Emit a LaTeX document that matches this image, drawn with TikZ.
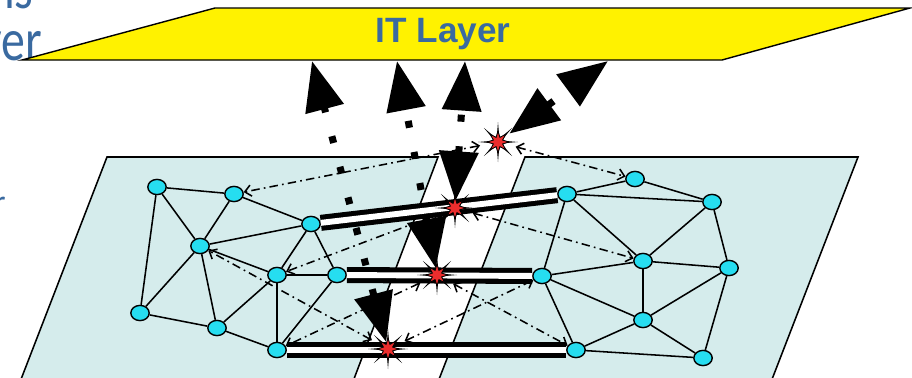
\documentclass[tikz,border=0pt]{standalone}
\usepackage{fontspec}
\setmainfont{Liberation Sans}
\newfontfamily\slidefont{Carlito}
\usepackage{graphicx}
\usetikzlibrary{shapes.geometric, arrows.meta}
\definecolor{planecyan}{RGB}{213,236,236}
\definecolor{hostcyan}{RGB}{38,221,240}
\definecolor{slideblue}{RGB}{58,106,160}
\definecolor{faultred}{RGB}{235,45,45}

\tikzset{
  host/.style={ellipse, draw, line width=1pt, fill=hostcyan,
    minimum width=0.46cm, minimum height=0.38cm, inner sep=0pt},
  link/.style={line width=1.1pt},
  probe/.style={line width=1.1pt, dash pattern=on 6pt off 3pt on 1.2pt off 3pt,
    {Straight Barb[length=4.5pt,width=8pt]}-{Straight Barb[length=4.5pt,width=8pt]}},
  trunk/.style={line width=3.6pt, double=white, double distance=4.2pt},
  report/.style={line width=5pt, dash pattern=on 5pt off 17.5pt,
    {Triangle[length=1.24cm,width=0.95cm]}-{Triangle[length=1.24cm,width=0.95cm]}},
  fault/.style={star, star points=8, star point ratio=2.2, fill=faultred, draw,
    line width=0.6pt, minimum size=0.55cm, inner sep=0pt},
  spike/.style={star, star points=8, star point ratio=5.5, fill=black,
    minimum size=1cm, inner sep=0pt}
}

\begin{document}
\begin{tikzpicture}[x=0.025cm, y=-0.025cm]
    % --- Frame (pixel grid of the slide crop) ---
    \useasboundingbox (0,0) rectangle (912,377);
    \clip (0,0) rectangle (912,377);

    % --- Slide text behind the figure, cut by the frame ---
    \node[anchor=base east, inner sep=0pt, text=slideblue, font=\slidefont\fontsize{34}{34}\selectfont]
        (txtis) at (34,8) {\scalebox{1}[1.25]{is}};
    \node[anchor=base east, inner sep=0pt, text=slideblue, font=\slidefont\fontsize{34}{34}\selectfont]
        (txtver) at (42,60) {\scalebox{1}[1.25]{ver}};
    \node[anchor=base east, inner sep=0pt, text=slideblue, font=\slidefont\fontsize{24}{24}\selectfont]
        (txtr) at (6,213) {r};

    % --- IT layer ---
    \filldraw[fill=yellow, line width=1pt] (22,60) -- (215,8) -- (910,8) -- (722,60) -- cycle;
    \node[font=\bfseries\fontsize{25}{28}\selectfont, text=slideblue] (itlayer) at (443,34) {IT Layer};
    \coordinate (it1) at (312,61);
    \coordinate (it2) at (397,61);
    \coordinate (it3) at (465,61);
    \coordinate (it4) at (608,61);

    % --- The two network domains (white band between them) ---
    \fill[planecyan] (13,400) -- (107,157) -- (438,157) -- (346,400) -- cycle;
    \draw[link] (13,400) -- (107,157) -- (438,157) -- (346,400);
    \fill[planecyan] (431,400) -- (525,157) -- (858,157) -- (764,400) -- cycle;
    \draw[link] (431,400) -- (525,157) -- (858,157) -- (764,400);

    % --- Fault points on the trunks ---
    \coordinate (f0) at (498,142);
    \coordinate (fA) at (455,208);
    \coordinate (fB) at (437,275);
    \coordinate (fC) at (388,349);

    % --- Hosts ---
    \foreach \name/\x/\y in {n1/157/187, n2/234/194, n3/311/224, n4/200/246, n5/277/275,
        n6/337/275, n7/140/313, n8/217/328, n9/277/350,
        n10/567/194, n11/542/276, n12/635/179, n13/712/202, n14/643/261,
        n15/729/268, n16/643/320, n17/703/358, n18/576/350}
        \node[host] (\name) at (\x,\y) {};

    % --- Links inside each domain ---
    \foreach \a/\b in {n1/n2, n1/n4, n1/n7, n2/n4, n2/n3, n3/n4, n4/n7, n4/n8, n4/n5,
        n3/n5, n3/n6, n5/n6, n5/n8, n5/n9, n6/n9, n7/n8, n8/n9}
        \draw[link] (\a) -- (\b);
    \foreach \a/\b in {n10/n11, n10/n12, n10/n13, n10/n14, n11/n14, n11/n16, n11/n18,
        n12/n13, n13/n14, n13/n15, n14/n15, n14/n16, n15/n16, n15/n17, n16/n17,
        n16/n18, n18/n17}
        \draw[link] (\a) -- (\b);

    % --- Probes from each fault point to hosts on both sides ---
    \foreach \f/\a/\b in {f0/n2/n12, fA/n5/n14, fB/n9/n18, fC/n4/n11} {
        \draw[probe, shorten <=13pt] (\f) -- (\a);
        \draw[probe, shorten <=13pt] (\f) -- (\b);
    }

    % --- Inter-domain trunks ---
    \draw[trunk] (n3) -- (n10);
    \draw[trunk] (n6) -- (n11);
    \draw[trunk] (n9) -- (n18);

    % --- Reports up to the IT layer ---
    \draw[report, shorten <=5pt] (fC) -- (it1);
    \draw[report, shorten <=5pt] (fB) -- (it2);
    \draw[report, shorten <=5pt] (fA) -- (it3);
    \draw[report, shorten <=10pt] (f0) -- (it4);

    % --- Fault stars ---
    \foreach \f in {f0, fA, fB, fC} {
        \node[spike] (k\f) at (\f) {};
        \node[fault] (s\f) at (\f) {};
    }
\end{tikzpicture}
\end{document}
